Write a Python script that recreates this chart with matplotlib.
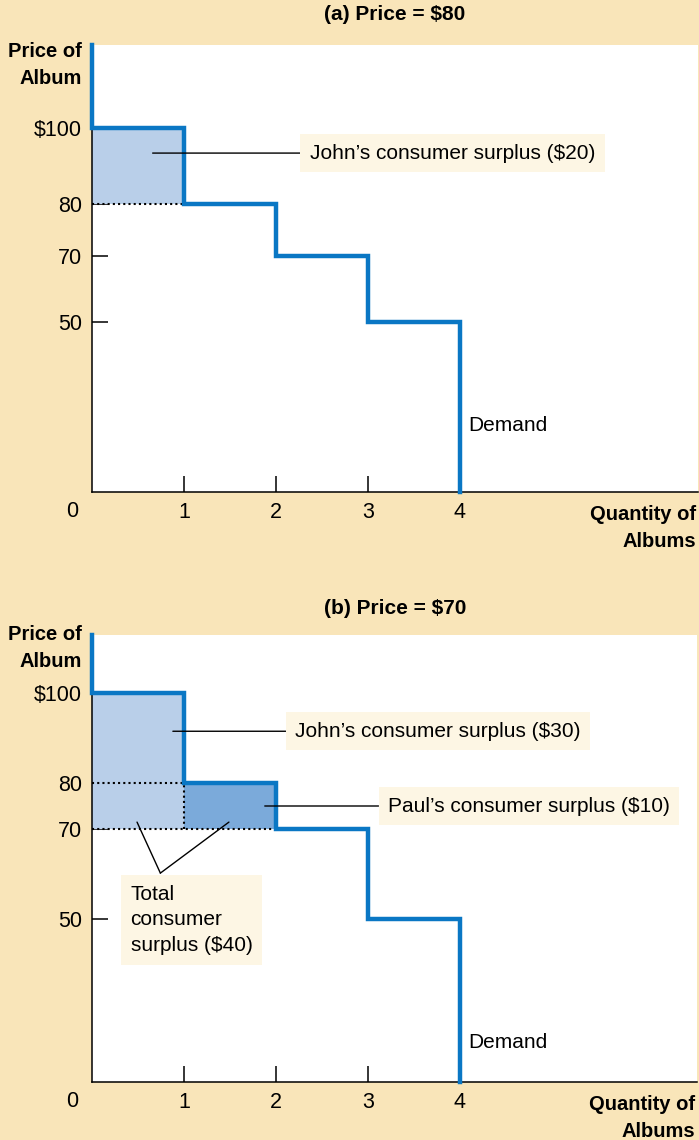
import numpy as np
import matplotlib.pyplot as plt

plt.rcParams['font.family'] = 'Liberation Sans'

# --- data ---
quantity = [1, 2, 3, 4]               # n-th album bought
willingness = [100, 80, 70, 50]       # price the buyer of that album will pay
price_a = 80
price_b = 70
price_top = 120
price_ticks = [50, 70, 80, 100]
price_tick_labels = ['50', '70', '80', '$100']
qty_ticks = [1, 2, 3, 4]
john_cs_a = 20
john_cs_b = 30
paul_cs_b = 10
total_cs_b = 40

# --- look ---
BG = '#F9E5B9'
BOX = '#FDF6E4'
BLUE = '#0A77C4'
LIGHT = '#B9CFE9'
MID = '#7BAADA'

# schematic (uneven) price axis: price -> height in pixels
scale_a = ([0, 50, 70, 80, 100, 120], [0, 170, 236, 288, 364, 447])
scale_b = ([0, 50, 70, 80, 100, 120], [0, 163, 253, 299, 389, 447])
PX = 91.9  # pixels per album


def setup(ax, scale, width_px):
    p, h = scale
    ax.set_yscale('function', functions=(lambda v: np.interp(v, p, h),
                                         lambda v: np.interp(v, h, p)))
    ax.set_ylim(0, price_top)
    ax.set_xlim(0, width_px / PX)
    ax.set_facecolor('white')
    for s in ['top', 'right']:
        ax.spines[s].set_visible(False)
    for s in ['left', 'bottom']:
        ax.spines[s].set_linewidth(1.1)
    ax.set_yticks(price_ticks)
    ax.set_yticklabels(price_tick_labels)
    ax.set_xticks(qty_ticks)
    ax.minorticks_off()
    ax.tick_params(direction='in', length=11.5, width=1.1, labelsize=15.5, pad=7)
    ax.annotate('0', xy=(0, 0), xytext=(-14, -14), textcoords='offset points',
                ha='center', va='center', fontsize=15.5)
    ax.annotate('Quantity of\nAlbums', xy=(1, 0), xycoords='axes fraction',
                xytext=(-1, -9), textcoords='offset points', ha='right', va='top',
                fontsize=14.5, fontweight='bold', linespacing=1.55)


def demand(ax, ylab):
    xs, ys = [0], [price_top]
    for q, p in zip(quantity, willingness):
        xs += [q - 1, q]
        ys += [p, p]
    xs.append(quantity[-1])
    ys.append(0)
    ax.plot(xs, ys, color=BLUE, lw=3.2, solid_joinstyle='miter', zorder=5, clip_on=False)
    ax.text(4.09, ylab, 'Demand', fontsize=15, va='center', ha='left')


def leader(ax, text, xy, xytext):
    ax.annotate(text, xy=xy, xytext=xytext, va='center', ha='left', fontsize=15,
                bbox=dict(boxstyle='square,pad=0.45', fc=BOX, ec='none'),
                arrowprops=dict(arrowstyle='-', lw=1, color='black', shrinkA=0, shrinkB=0),
                zorder=6)


dots = dict(color='black', lw=1.5, linestyle=(0, (1, 1.5)), zorder=4)

fig = plt.figure(figsize=(6.99, 11.40), dpi=100, facecolor=BG)

# ---------- (a) ----------
ax = fig.add_axes([92 / 699, 1 - 492 / 1140, 606 / 699, 447 / 1140])
setup(ax, scale_a, 606)
ax.fill_between([0, 1], price_a, willingness[0], color=LIGHT, lw=0, zorder=2)
ax.plot([0, 1], [price_a, price_a], **dots)
demand(ax, 19.7)
leader(ax, f'John\u2019s consumer surplus (${john_cs_a})', (0.66, 93.4), (2.37, 93.4))
fig.text(395 / 699, 1 - 15 / 1140, '(a) Price = $80', ha='center', va='center',
         fontsize=15, fontweight='bold')
fig.text(82 / 699, 1 - 65 / 1140, 'Price of\nAlbum', ha='right', va='center',
         fontsize=14.5, fontweight='bold', linespacing=1.55)

# ---------- (b) ----------
ax = fig.add_axes([92 / 699, 1 - 1082 / 1140, 605 / 699, 447 / 1140])
setup(ax, scale_b, 605)
ax.fill_between([0, 1], price_b, willingness[0], color=LIGHT, lw=0, zorder=2)
ax.fill_between([1, 2], price_b, willingness[1], color=MID, lw=0, zorder=2)
ax.plot([0, 1], [willingness[1], willingness[1]], **dots)
ax.plot([0, 2], [price_b, price_b], **dots)
ax.plot([1, 1], [price_b, willingness[1]], **dots)
demand(ax, 12)
leader(ax, f'John\u2019s consumer surplus (${john_cs_b})', (0.88, 91.5), (2.21, 91.5))
leader(ax, f'Paul\u2019s consumer surplus (${paul_cs_b})', (1.88, 75), (3.22, 75))
for tip in [(0.49, 71.5), (1.49, 71.5)]:
    ax.annotate('', xy=tip, xytext=(0.744, 60.2),
                arrowprops=dict(arrowstyle='-', lw=1, color='black', shrinkA=0, shrinkB=0))
ax.text(0.42, 49.7, f'Total\nconsumer\nsurplus (${total_cs_b})', fontsize=15,
        ha='left', va='center', linespacing=1.45, zorder=6,
        bbox=dict(boxstyle='square,pad=0.45', fc=BOX, ec='none'))
fig.text(395 / 699, 1 - 608 / 1140, '(b) Price = $70', ha='center', va='center',
         fontsize=15, fontweight='bold')
fig.text(82 / 699, 1 - 648 / 1140, 'Price of\nAlbum', ha='right', va='center',
         fontsize=14.5, fontweight='bold', linespacing=1.55)

fig.savefig('out.png', dpi=100, facecolor=BG)
